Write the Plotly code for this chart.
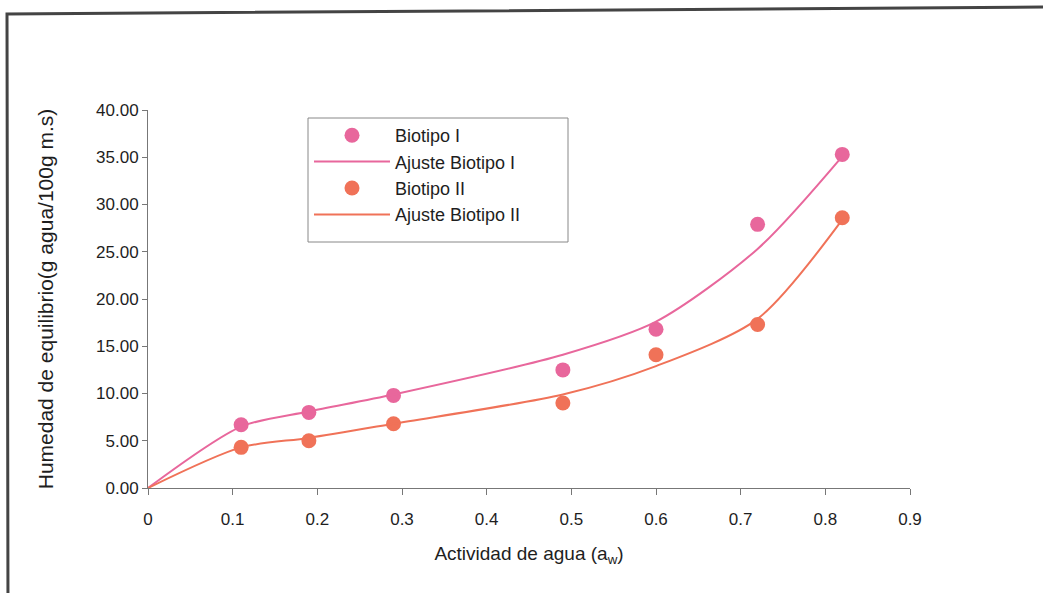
import plotly.graph_objects as go

# Water activity of the saturated salt solutions
aw = [0.11, 0.19, 0.29, 0.49, 0.60, 0.72, 0.82]

# Measured equilibrium moisture (g water / 100 g dry matter)
biotipo_1 = [6.7, 8.0, 9.8, 12.5, 16.8, 27.9, 35.3]
biotipo_2 = [4.3, 5.0, 6.8, 9.0, 14.1, 17.3, 28.6]

# Fitted isotherm values, including the origin
aw_fit = [0.0, 0.11, 0.19, 0.29, 0.49, 0.60, 0.72, 0.82]
ajuste_1 = [0.0, 6.5, 8.1, 9.9, 14.1, 17.6, 25.3, 35.1]
ajuste_2 = [0.0, 4.3, 5.3, 6.8, 9.9, 12.9, 17.9, 28.4]

x_ticks = [0, 0.1, 0.2, 0.3, 0.4, 0.5, 0.6, 0.7, 0.8, 0.9]
x_tick_text = ["0", "0.1", "0.2", "0.3", "0.4", "0.5", "0.6", "0.7", "0.8", "0.9"]
y_ticks = [0, 5, 10, 15, 20, 25, 30, 35, 40]

PINK = "#E8679C"
ORANGE = "#F07258"
FONT = "Liberation Sans, Arial, sans-serif"
TEXT = "#1e1e1e"

fig = go.Figure()
fig.add_trace(go.Scatter(
    x=aw, y=biotipo_1, mode="markers", name="Biotipo I",
    marker=dict(color=PINK, size=15, line=dict(width=0)),
))
fig.add_trace(go.Scatter(
    x=aw_fit, y=ajuste_1, mode="lines", name="Ajuste Biotipo I",
    line=dict(color=PINK, width=2, shape="spline", smoothing=0.8),
))
fig.add_trace(go.Scatter(
    x=aw, y=biotipo_2, mode="markers", name="Biotipo II",
    marker=dict(color=ORANGE, size=15, line=dict(width=0)),
))
fig.add_trace(go.Scatter(
    x=aw_fit, y=ajuste_2, mode="lines", name="Ajuste Biotipo II",
    line=dict(color=ORANGE, width=2, shape="spline", smoothing=0.8),
))

W, H = 1043, 593
L, R, T, B = 148, 133, 110, 105
pw, ph = W - L - R, H - T - B


def px_x(p):
    return (p - L) / pw


def px_y(p):
    return (H - B - p) / ph


# Outer frame of the figure (top and left edges visible)
fig.add_shape(
    type="path", xref="paper", yref="paper",
    path=f"M {px_x(8)},{px_y(620)} L {px_x(7)},{px_y(14)} L {px_x(1060)},{px_y(7)}",
    line=dict(color="#444444", width=3),
)

# Legend frame
fig.add_shape(
    type="rect", xref="paper", yref="paper",
    x0=px_x(308), x1=px_x(568), y0=px_y(242), y1=px_y(118),
    line=dict(color="#888888", width=1), fillcolor="white", layer="below",
)

fig.update_layout(
    width=W, height=H,
    margin=dict(l=L, r=R, t=T, b=B),
    paper_bgcolor="white", plot_bgcolor="rgba(0,0,0,0)",
    font=dict(family=FONT, size=16, color=TEXT),
    showlegend=True,
    legend=dict(
        x=px_x(309), y=px_y(117), xanchor="left", yanchor="top",
        bgcolor="rgba(0,0,0,0)", borderwidth=0,
        font=dict(family=FONT, size=18, color=TEXT),
        itemwidth=76, tracegroupgap=0,
    ),
    xaxis=dict(
        range=[0, 0.9], tickvals=x_ticks, ticktext=x_tick_text,
        showgrid=False, zeroline=False, showline=True,
        linecolor="#777777", linewidth=1,
        ticks="outside", ticklen=6, tickcolor="#777777",
        tickfont=dict(size=17), ticklabelstandoff=10,
        title=dict(text="Actividad de agua (a<sub>w</sub>)", font=dict(size=19), standoff=18),
    ),
    yaxis=dict(
        range=[0, 40], tickvals=y_ticks, tickformat=".2f",
        showgrid=False, zeroline=False, showline=True,
        linecolor="#777777", linewidth=1,
        ticks="outside", ticklen=5, tickcolor="#777777",
        tickfont=dict(size=17),
        title=dict(text="Humedad de equilibrio(g agua/100g m.s)", font=dict(size=21), standoff=36),
    ),
)

fig.write_html("out.html")
